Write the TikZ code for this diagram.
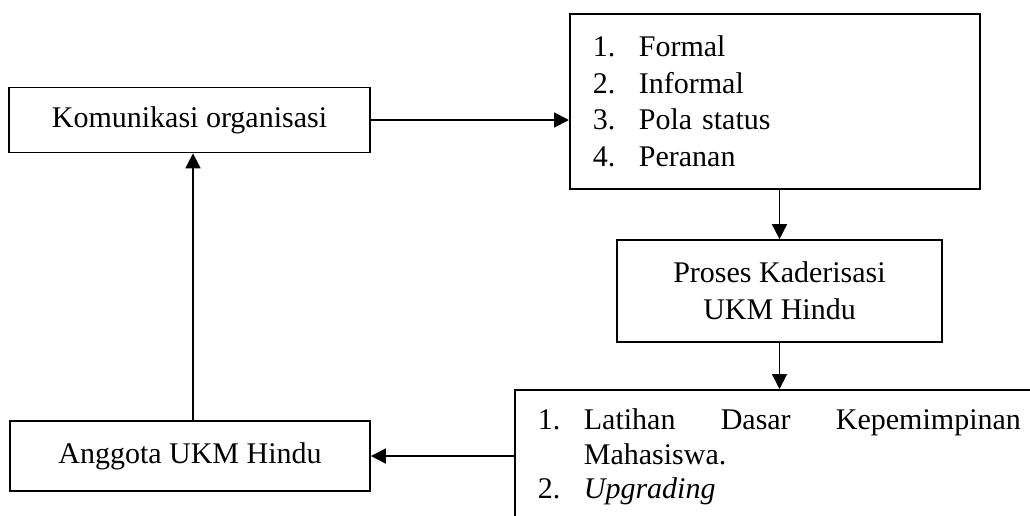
\documentclass[tikz,border=0pt]{standalone}
\usepackage{fontspec}
\setmainfont{Liberation Serif}
\usetikzlibrary{arrows.meta}
\begin{document}
\begin{tikzpicture}[x=0.4pt, y=-0.4pt,
    box/.style={draw, line width=0.7pt, inner sep=0pt, font=\fontsize{12}{14.7}\selectfont},
    flow/.style={line width=0.7pt, -{Triangle[length=6pt, width=6pt]}}]
    \useasboundingbox (0,0) rectangle (1030,515);
    \clip (0,0) rectangle (1030,515);
    % Boxes
    \node[box, minimum width=144.4pt, minimum height=26pt] (komunikasi) at (189.5,120) {Komunikasi organisasi};
    \node[box, anchor=north west, minimum width=164pt, minimum height=70pt, text width=145.6pt, inner xsep=9.2pt, align=left] (bentuk) at (569,13)
        {\makebox[18.4pt][l]{1.}Formal\\ \makebox[18.4pt][l]{2.}Informal\\ \makebox[18.4pt][l]{3.}Pola status\\ \makebox[18.4pt][l]{4.}Peranan};
    \node[box, minimum width=130pt, minimum height=40.8pt, align=center] (proses) at (779.5,291) {Proses Kaderisasi\\UKM Hindu};
    \node[box, minimum width=144pt, minimum height=28pt] (anggota) at (190,456) {Anggota UKM Hindu};
    % Bottom box runs past the page edge
    \node[box, anchor=north west, inner xsep=9.2pt, inner ysep=6.3pt, font=\fontsize{12}{13.8}\selectfont] (kegiatan) at (514,389)
        {\begin{tabular}{@{}p{18.4pt}@{}p{174.8pt}@{}}
            1. & \makebox[174.8pt][s]{Latihan Dasar Kepemimpinan}\\
               & Mahasiswa.\\
            2. & \textit{Upgrading}
         \end{tabular}};
    % Arrows
    \draw[flow] (komunikasi.east) -- (komunikasi.east -| bentuk.west);
    \draw[flow] (proses.north |- bentuk.south) -- (proses.north);
    \draw[flow] (proses.south) -- (proses.south |- kegiatan.north);
    \draw[flow] (kegiatan.west |- anggota.east) -- (anggota.east);
    \draw[flow] ([xshift=1.2pt]anggota.north) -- ([xshift=1.2pt]anggota.north |- komunikasi.south);
\end{tikzpicture}
\end{document}
